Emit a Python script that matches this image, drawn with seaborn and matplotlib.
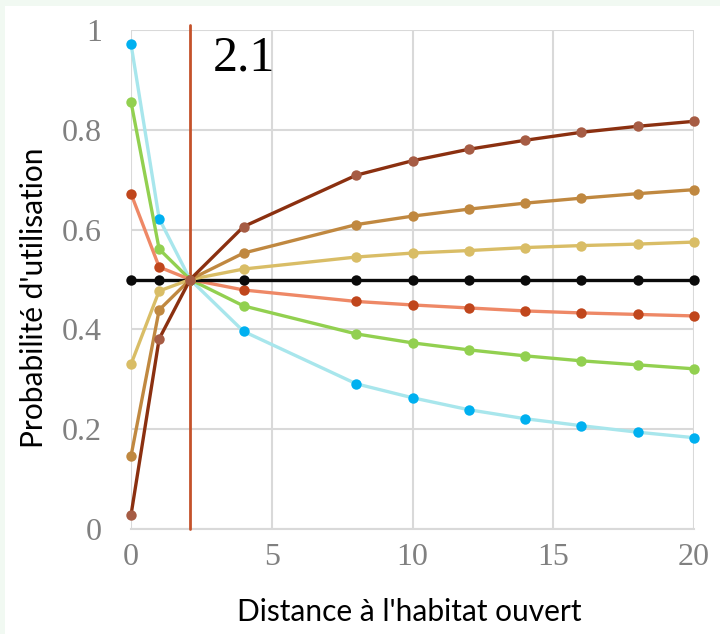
import matplotlib
matplotlib.use("Agg")
import matplotlib.pyplot as plt
import seaborn as sns
import pandas as pd
from matplotlib.patches import Rectangle

# Distance to open habitat (x) and probability of use for each scenario
distance = [0, 1, 2.1, 4, 8, 10, 12, 14, 16, 18, 20]
threshold = 2.1

p_blue = [0.972, 0.622, 0.5, 0.396, 0.291, 0.263, 0.239, 0.221, 0.207, 0.194, 0.183]
p_green = [0.856, 0.561, 0.5, 0.447, 0.391, 0.373, 0.359, 0.347, 0.337, 0.329, 0.321]
p_orange = [0.672, 0.525, 0.5, 0.479, 0.456, 0.449, 0.443, 0.437, 0.433, 0.430, 0.427]
p_black = [0.5, 0.5, 0.5, 0.5, 0.5, 0.5, 0.5, 0.5, 0.5, 0.5, 0.5]
p_sand = [0.330, 0.477, 0.5, 0.521, 0.545, 0.553, 0.558, 0.564, 0.568, 0.571, 0.575]
p_tan = [0.146, 0.439, 0.5, 0.553, 0.610, 0.627, 0.641, 0.653, 0.663, 0.672, 0.680]
p_brown = [0.028, 0.381, 0.5, 0.606, 0.709, 0.738, 0.761, 0.779, 0.795, 0.807, 0.817]

x_ticks = [0, 5, 10, 15, 20]
y_ticks = [0, 0.2, 0.4, 0.6, 0.8, 1.0]
y_ticklabels = ["0", "0.2", "0.4", "0.6", "0.8", "1"]

series = [
    ("blue", p_blue, "#A8E6EC", "#00B0F0"),
    ("green", p_green, "#92D050", "#92D050"),
    ("orange", p_orange, "#EE8866", "#C0461C"),
    ("black", p_black, "#0A0A0A", "#0A0A0A"),
    ("sand", p_sand, "#D9BD66", "#D9BD66"),
    ("tan", p_tan, "#C08840", "#C08840"),
    ("brown", p_brown, "#8B3010", "#A65C44"),
]

sns.set_theme(style="white")

fig = plt.figure(figsize=(7.2, 6.34), dpi=100, facecolor="#F1F9F2")
fig.add_artist(Rectangle((5 / 720, 0), 1, 1 - 6 / 634, transform=fig.transFigure,
                         facecolor="white", edgecolor="none", zorder=-10))
ax = fig.add_axes([131 / 720, 1 - 529 / 634, (694 - 131) / 720, (529 - 30) / 634])
ax.set_zorder(1)
ax.set_facecolor("white")

for name, values, line_color, marker_color in series:
    df = pd.DataFrame({"distance": distance, "prob": values})
    sns.lineplot(data=df, x="distance", y="prob", ax=ax, color=line_color,
                 linewidth=2.4, marker="o", markersize=7.5,
                 markerfacecolor=marker_color, markeredgecolor=marker_color,
                 markeredgewidth=0, clip_on=False, zorder=4)

# Threshold line
ax.plot([threshold, threshold], [0, 1.01], color="#C4522A", linewidth=2.0,
        clip_on=False, zorder=3)
ax.text(threshold + 0.8, 0.918, f"{threshold}", fontsize=36, color="black",
        family="Liberation Serif", ha="left", va="baseline")

ax.set_xlim(0, 20)
ax.set_ylim(0, 1)
ax.set_xticks(x_ticks)
ax.set_xticklabels([str(t) for t in x_ticks])
ax.set_yticks(y_ticks)
ax.set_yticklabels(y_ticklabels)

for lab in ax.get_xticklabels() + ax.get_yticklabels():
    lab.set_family("Liberation Serif")
    lab.set_fontsize(23)
    lab.set_color("#808080")
ax.tick_params(axis="y", length=0, pad=21)
ax.tick_params(axis="x", length=0, pad=10)

ax.grid(True, color="#D9D9D9", linewidth=1.5, zorder=0)
ax.set_axisbelow(True)
for side in ["top", "right", "left"]:
    ax.spines[side].set_visible(False)
ax.spines["bottom"].set_color("#D9D9D9")
ax.spines["bottom"].set_linewidth(1.5)

ax.set_xlabel("Distance à l'habitat ouvert", family="Lato", fontsize=21.5,
              color="black")
ax.set_ylabel("Probabilité d'utilisation", family="Lato", fontsize=21.5,
              color="black")
ax.xaxis.set_label_coords(0.495, -0.138)
ax.yaxis.set_label_coords(-0.147, 0.463)

fig.savefig("out.png", dpi=100, facecolor=fig.get_facecolor())
